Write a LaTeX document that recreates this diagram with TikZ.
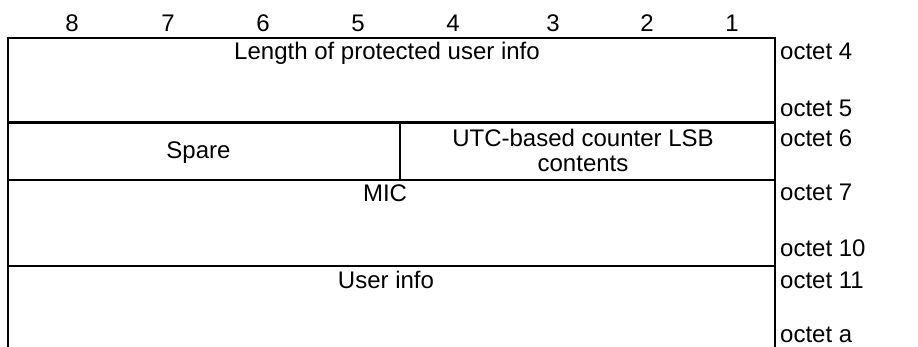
\documentclass[tikz,border=0pt]{standalone}
\usepackage{fontspec}
\setmainfont{Liberation Sans}
\usetikzlibrary{positioning}

\begin{document}
\begin{tikzpicture}[
    x=1pt,
    y=-1pt,
    table_line/.style={
        draw=black,
        line width=2.2pt
    },
    bit_label/.style={
        anchor=base,
        inner sep=0pt,
        font=\fontsize{24}{28}\selectfont
    },
    field_label/.style={
        anchor=base,
        inner sep=0pt,
        align=center,
        font=\fontsize{24}{28}\selectfont
    },
    octet_label/.style={
        anchor=base west,
        inner sep=0pt,
        font=\fontsize{24}{28}\selectfont
    }
]

    \useasboundingbox (0,0) rectangle (918,347);

    % Table frame and row separators
    \draw [table_line] (8,347) -- (8,38) -- (775,38) -- (775,347);
    \draw [table_line] (8,122.5) -- (775,122.5);
    \draw [table_line] (8,180) -- (775,180);
    \draw [table_line] (8,266) -- (775,266);
    \draw [table_line] (400,122.5) -- (400,180);

    % Bit numbers
    \node (b8) [bit_label] at (72,31.5) {8};
    \node (b7) [bit_label] at (168,31.5) {7};
    \node (b6) [bit_label] at (263,31.5) {6};
    \node (b5) [bit_label] at (358,31.5) {5};
    \node (b4) [bit_label] at (453,31.5) {4};
    \node (b3) [bit_label] at (553,31.5) {3};
    \node (b2) [bit_label] at (647,31.5) {2};
    \node (b1) [bit_label] at (732,31.5) {1};

    % Fields
    \node (length) [field_label] at (387,60) {Length of protected user info};
    \node (spare) [field_label] at (198.5,159) {Spare};
    \node (utc) [field_label] at (583,147) {UTC-based counter LSB};
    \node (contents) [field_label] at (583,172) {contents};
    \node (mic) [field_label] at (385,202) {MIC};
    \node (userinfo) [field_label] at (386,288) {User info};

    % Octet numbers
    \node (o4) [octet_label] at (780,60) {octet 4};
    \node (o5) [octet_label] at (780,117) {octet 5};
    \node (o6) [octet_label] at (780,147) {octet 6};
    \node (o7) [octet_label] at (780,201) {octet 7};
    \node (o10) [octet_label] at (780,257) {octet 10};
    \node (o11) [octet_label] at (780,288) {octet 11};
    \node (oa) [octet_label] at (780,342) {octet a};

\end{tikzpicture}
\end{document}
